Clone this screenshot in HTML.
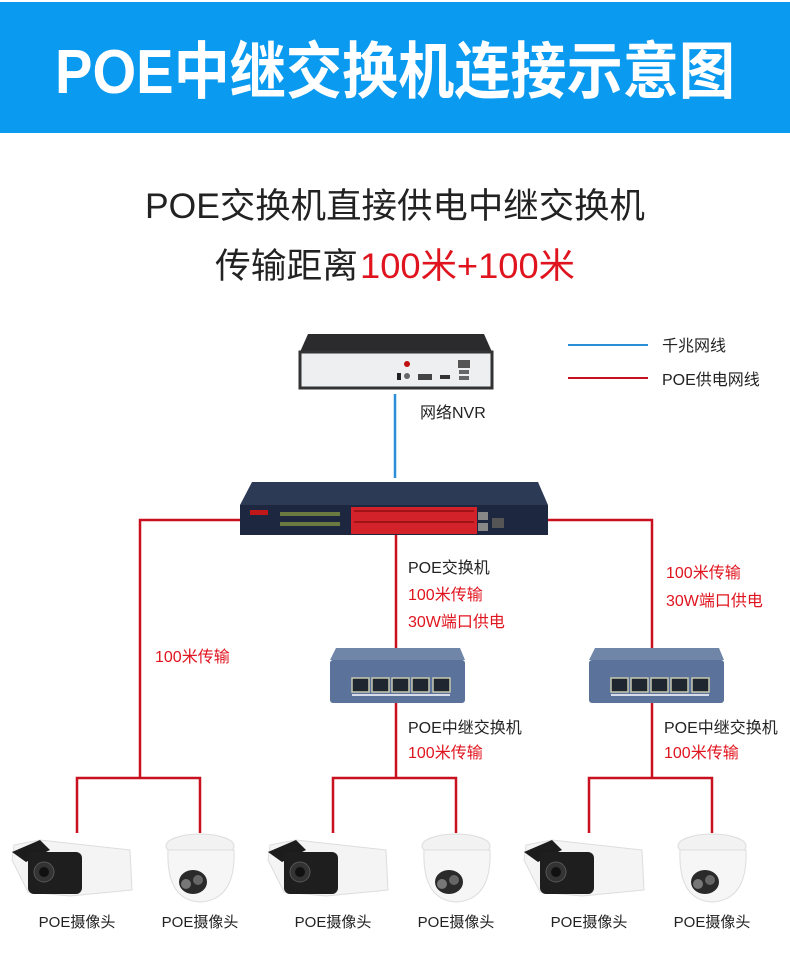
<!DOCTYPE html>
<html><head><meta charset="utf-8"><style>
html,body{margin:0;padding:0;background:#fff;}
svg{display:block}
text{font-family:"Liberation Sans","Noto Sans CJK SC",sans-serif;}
</style></head><body>
<svg width="790" height="957" viewBox="0 0 790 957" xmlns="http://www.w3.org/2000/svg">
<rect x="0" y="0" width="790" height="957" fill="#fff"/>
<rect x="0" y="2" width="790" height="131" fill="#0a9af0"/>
<text x="55" y="93" font-size="62" font-weight="bold" fill="#fff" textLength="680" lengthAdjust="spacingAndGlyphs">POE中继交换机连接示意图</text>

<text x="145" y="218" font-size="35" fill="#222" textLength="500" lengthAdjust="spacingAndGlyphs">POE交换机直接供电中继交换机</text>
<text x="215" y="278" font-size="35" fill="#222" textLength="143" lengthAdjust="spacingAndGlyphs">传输距离</text>
<text x="360" y="278" font-size="35" fill="#e0141e" textLength="215" lengthAdjust="spacingAndGlyphs">100米+100米</text>

<!-- legend -->
<line x1="568" y1="345" x2="648" y2="345" stroke="#2a8fd8" stroke-width="2"/>
<text x="662" y="351" font-size="16" fill="#222">千兆网线</text>
<line x1="568" y1="378" x2="648" y2="378" stroke="#c8101e" stroke-width="2"/>
<text x="662" y="385" font-size="16" fill="#222">POE供电网线</text>

<!-- connectors -->
<g stroke="#c8101e" stroke-width="2.5" fill="none">
<polyline points="140,778 140,520 652,520 652,648"/>
<line x1="396" y1="520" x2="396" y2="648"/>
<line x1="396" y1="703" x2="396" y2="778"/>
<line x1="652" y1="703" x2="652" y2="778"/>
<polyline points="77,833 77,778 200,778 200,833"/>
<polyline points="333,833 333,778 456,778 456,833"/>
<polyline points="589,833 589,778 712,778 712,833"/>
</g>
<line x1="395" y1="394" x2="395" y2="478" stroke="#2a8fd8" stroke-width="2.5"/>

<!-- NVR -->
<polygon points="308,334 484,334 492,352 300,352" fill="#2b2b2d"/>
<rect x="300" y="352" width="192" height="36" fill="#eeeff0" stroke="#333" stroke-width="3"/>
<circle cx="407" cy="364" r="3" fill="#c01010"/>
<circle cx="407" cy="376" r="3" fill="#666"/>
<rect x="397" y="373" width="4" height="7" fill="#222"/>
<rect x="418" y="374" width="14" height="6" fill="#444"/>
<rect x="440" y="375" width="10" height="4" fill="#333"/>
<rect x="458" y="360" width="12" height="8" fill="#555"/>
<rect x="459" y="370" width="10" height="4" fill="#666"/>
<rect x="459" y="376" width="10" height="4" fill="#666"/>
<text x="420" y="418" font-size="16" fill="#222">网络NVR</text>

<!-- main switch -->
<polygon points="252,482 538,482 548,505 240,505" fill="#2c3a55"/>
<rect x="240" y="505" width="308" height="30" fill="#1d2740"/>
<rect x="250" y="510" width="18" height="5" fill="#c01818"/>
<rect x="280" y="512" width="60" height="4" fill="#6a7a40"/>
<rect x="280" y="522" width="60" height="4" fill="#6a7a40"/>
<rect x="351" y="507" width="126" height="27" fill="#d4222a"/>
<g fill="#a01418">
<rect x="354" y="510" width="120" height="2"/><rect x="354" y="521" width="120" height="2"/>
</g>
<rect x="478" y="512" width="10" height="8" fill="#888"/>
<rect x="478" y="523" width="10" height="8" fill="#888"/>
<rect x="492" y="518" width="12" height="10" fill="#555"/>

<!-- relay switches -->
<g id="relay">
<polygon points="336,648 460,648 465,660 330,660" fill="#6f86a8"/>
<rect x="330" y="660" width="135" height="43" rx="3" fill="#5b739a"/>
<g fill="#1f2630" stroke="#c8c8b0" stroke-width="1.5">
<rect x="352" y="678" width="17" height="14"/><rect x="372" y="678" width="17" height="14"/>
<rect x="392" y="678" width="17" height="14"/><rect x="412" y="678" width="17" height="14"/>
<rect x="433" y="678" width="17" height="14"/>
</g>
<rect x="352" y="694" width="98" height="2" fill="#d8dde8"/>
</g>
<use href="#relay" x="259" y="0"/>

<!-- labels -->
<text x="408" y="573" font-size="16" fill="#222">POE交换机</text>
<text x="408" y="600" font-size="16" fill="#e0141e">100米传输</text>
<text x="408" y="627" font-size="16" fill="#e0141e">30W端口供电</text>
<text x="666" y="578" font-size="16" fill="#e0141e">100米传输</text>
<text x="666" y="606" font-size="16" fill="#e0141e">30W端口供电</text>
<text x="155" y="662" font-size="16" fill="#e0141e">100米传输</text>
<text x="408" y="733" font-size="16" fill="#222">POE中继交换机</text>
<text x="408" y="758" font-size="16" fill="#e0141e">100米传输</text>
<text x="664" y="733" font-size="16" fill="#222">POE中继交换机</text>
<text x="664" y="758" font-size="16" fill="#e0141e">100米传输</text>

<!-- cameras -->
<g id="cams">
<polygon points="14,845 40,840 130,850 132,890 70,896 28,892 12,860" fill="#f4f4f4" stroke="#ddd"/>
<polygon points="12,852 40,840 50,850 26,862" fill="#1c1c1c"/>
<rect x="28" y="852" width="54" height="42" rx="6" fill="#1e1e1e"/>
<circle cx="44" cy="872" r="10" fill="#333" stroke="#555"/>
<circle cx="44" cy="872" r="5" fill="#111"/>
<ellipse cx="200" cy="846" rx="34" ry="12" fill="#f2f2f2" stroke="#ddd"/>
<path d="M168,850 Q166,900 200,902 Q236,900 234,850 Z" fill="#f6f6f6" stroke="#ddd"/>
<ellipse cx="193" cy="882" rx="14" ry="12" fill="#2a2a2a"/>
<circle cx="186" cy="884" r="5" fill="#777"/>
<circle cx="198" cy="880" r="5" fill="#666"/>
<text x="77" y="927" font-size="15" fill="#222" text-anchor="middle">POE摄像头</text>
<text x="200" y="927" font-size="15" fill="#222" text-anchor="middle">POE摄像头</text>
</g>
<use href="#cams" x="256" y="0"/>
<use href="#cams" x="512" y="0"/>
</svg>
</body></html>
